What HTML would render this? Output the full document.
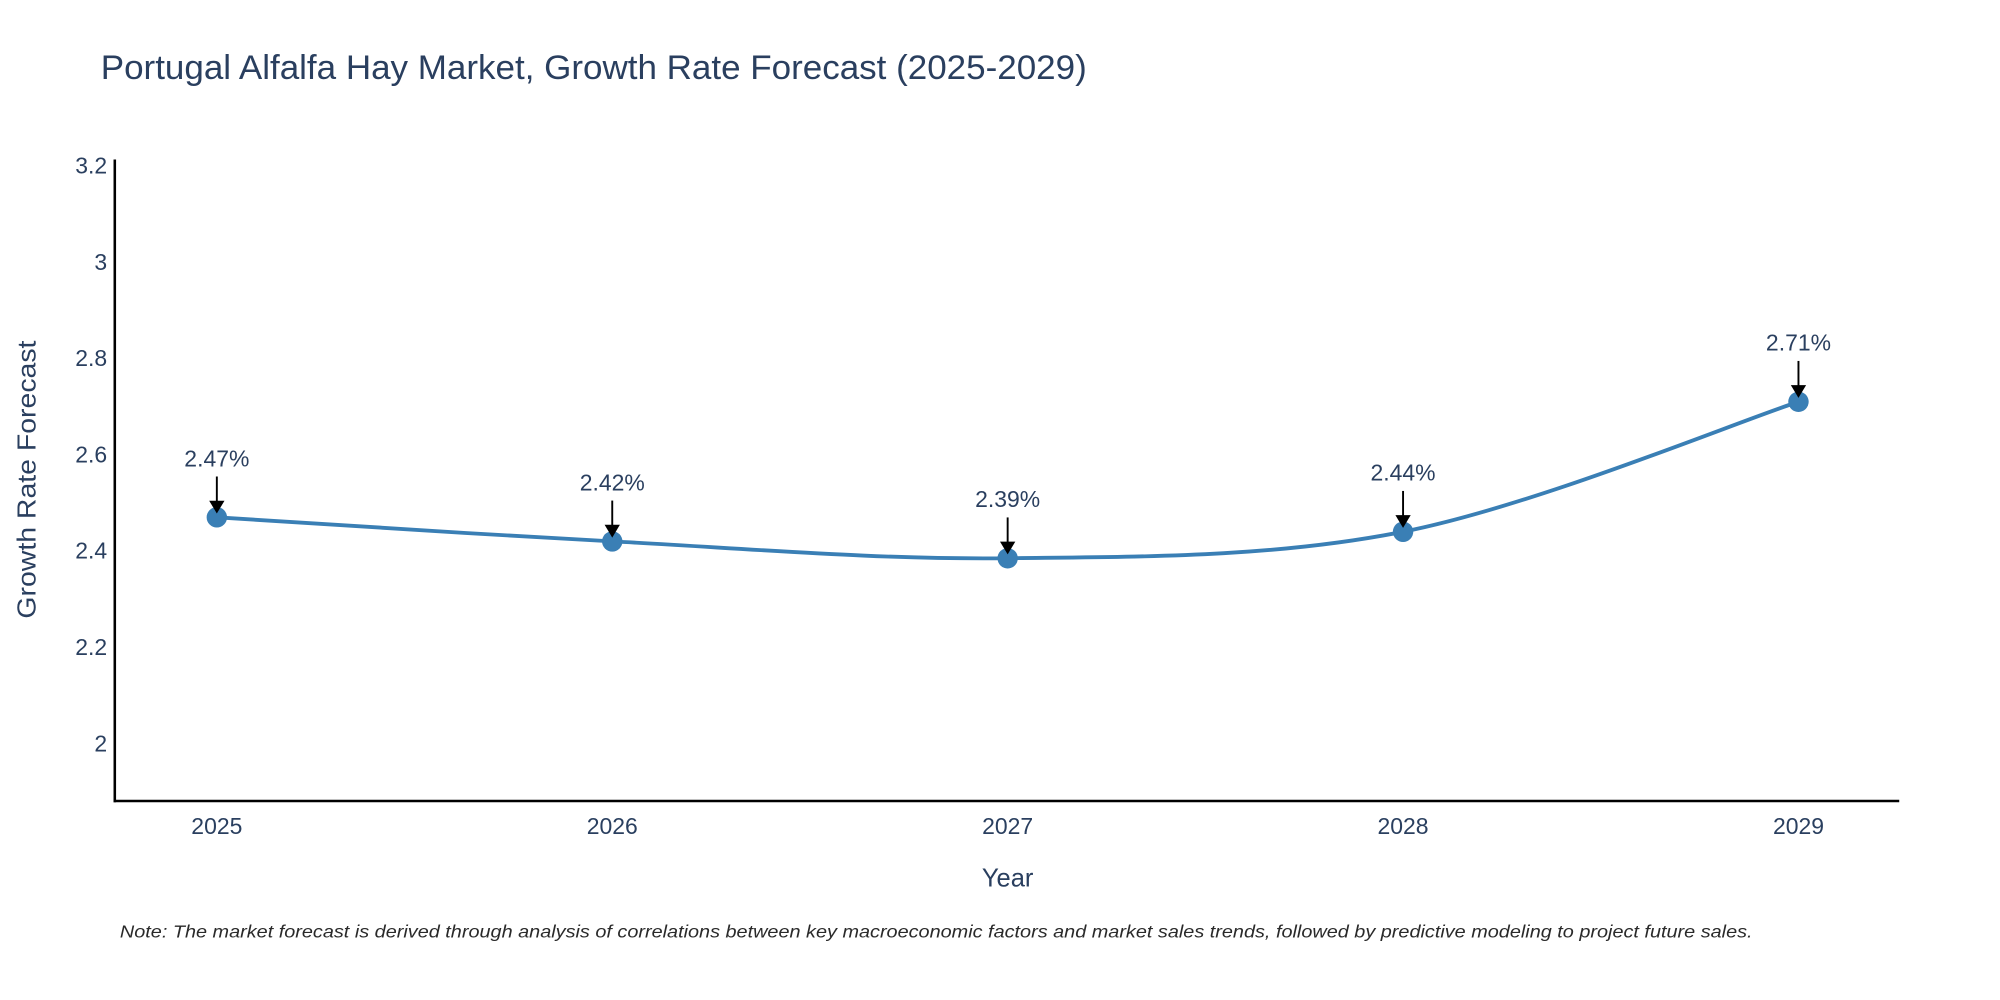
<!DOCTYPE html>
<html><head><meta charset="utf-8"><style>
body{margin:0;background:#fff}
svg{display:block;font-family:"Liberation Sans",sans-serif}
</style></head><body>
<svg width="2000" height="1000" viewBox="0 0 1568 784" xmlns="http://www.w3.org/2000/svg">
<rect width="1568" height="784" fill="#fff"/>
<text x="79" y="62" font-size="27" fill="#2a3f5f" textLength="773" lengthAdjust="spacingAndGlyphs">Portugal Alfalfa Hay Market, Growth Rate Forecast (2025-2029)</text>
<g id="yticks"></g><g id="xticks"></g>
<line x1="90" y1="125" x2="90" y2="629" stroke="#000" stroke-width="2"/>
<line x1="89" y1="628" x2="1489" y2="628" stroke="#000" stroke-width="2"/>
<text transform="translate(28,376) rotate(-90)" text-anchor="middle" font-size="20" fill="#2a3f5f" textLength="218" lengthAdjust="spacingAndGlyphs">Growth Rate Forecast</text>
<text x="790" y="695" text-anchor="middle" font-size="20" fill="#2a3f5f">Year</text>
<path id="line" fill="none" stroke="#3a7fb5" stroke-width="3"/>
<g id="marks"></g>
<text x="94" y="735" font-size="14" font-style="italic" fill="#2a2a2a" textLength="1280" lengthAdjust="spacingAndGlyphs">Note: The market forecast is derived through analysis of correlations between key macroeconomic factors and market sales trends, followed by predictive modeling to project future sales.</text>
</svg>
<script>
const years=[2025,2026,2027,2028,2029];
const values=[2.47,2.42,2.385,2.44,2.71];
const labels=["2.47%","2.42%","2.39%","2.44%","2.71%"];
const yTickVals=[2,2.2,2.4,2.6,2.8,3,3.2];
const yTickLabels=["2","2.2","2.4","2.6","2.8","3","3.2"];
const NS="http://www.w3.org/2000/svg";
function xs(yr){return 170+(yr-2025)*310;}
function ys(v){return 583-(v-2)*377.5;}
function mk(t,a,p){const e=document.createElementNS(NS,t);for(const k in a)e.setAttribute(k,a[k]);(p||document.querySelector('svg')).appendChild(e);return e;}
const yg=document.getElementById('yticks'),xg=document.getElementById('xticks');
yTickVals.forEach((v,i)=>{const t=mk('text',{x:84,y:ys(v)+6,'text-anchor':'end','font-size':18,fill:'#2a3f5f'},yg);t.textContent=yTickLabels[i];

});
years.forEach(y=>{const t=mk('text',{x:xs(y),y:654,'text-anchor':'middle','font-size':18,fill:'#2a3f5f'},xg);t.textContent=y;

});
const P=years.map((y,i)=>[xs(y),ys(values[i])]);
let d=`M${P[0][0]},${P[0][1]}`;
for(let i=0;i<P.length-1;i++){const p0=P[i-1]||P[i],p1=P[i],p2=P[i+1],p3=P[i+2]||p2,k=6;
d+=` C${p1[0]+(p2[0]-p0[0])/k},${p1[1]+(p2[1]-p0[1])/k} ${p2[0]-(p3[0]-p1[0])/k},${p2[1]-(p3[1]-p1[1])/k} ${p2[0]},${p2[1]}`;}
document.getElementById('line').setAttribute('d',d);
const mg=document.getElementById('marks');
P.forEach((p,i)=>{
const c=mk('circle',{cx:p[0],cy:p[1],r:8,fill:'#3a7fb5'},mg);


const l=mk('line',{x1:p[0],y1:p[1]-32,x2:p[0],y2:p[1]-12,stroke:'#000','stroke-width':1.5},mg);


const h=mk('path',{d:`M${p[0]-6},${p[1]-13} L${p[0]+6},${p[1]-13} L${p[0]},${p[1]-3} Z`,fill:'#000'},mg);


const t=mk('text',{x:p[0],y:p[1]-40,'text-anchor':'middle','font-size':18,fill:'#2a3f5f'},mg);t.textContent=labels[i];


});
</script>
</body></html>
